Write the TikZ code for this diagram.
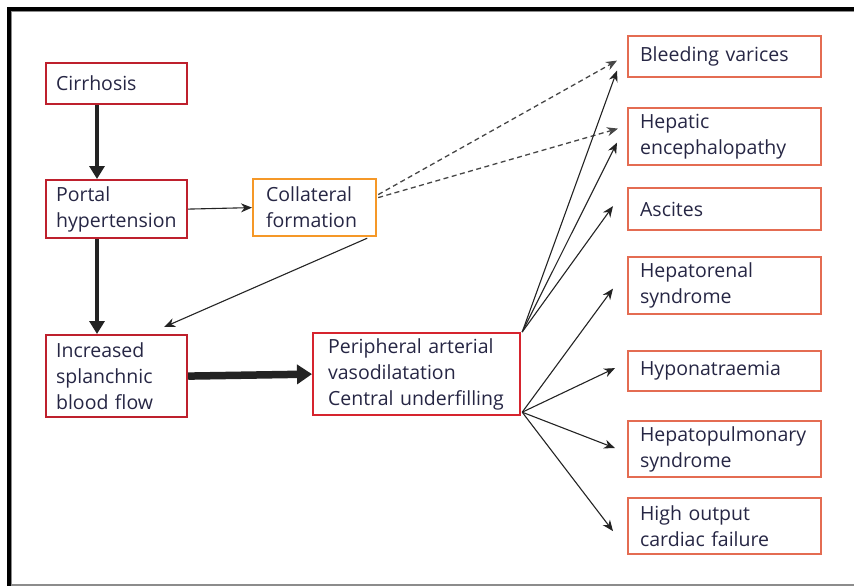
\documentclass[tikz,border=0pt]{standalone}
\usepackage{fontspec}
\setmainfont{Open Sans}
\usetikzlibrary{arrows.meta,calc}
\definecolor{txt}{RGB}{38,38,68}
\definecolor{darkred}{RGB}{190,32,45}
\definecolor{brightred}{RGB}{214,36,46}
\definecolor{orangeb}{RGB}{245,152,40}
\definecolor{salmon}{RGB}{228,108,82}
\definecolor{arr}{RGB}{35,35,35}
\definecolor{dash}{RGB}{70,70,70}
\definecolor{framegray}{RGB}{140,140,140}
\begin{document}
\begin{tikzpicture}[x=1pt,y=-1pt,
  box/.style={draw, line width=2.2pt, anchor=north west, align=left, inner ysep=0pt,
    font=\fontsize{19.5}{26}\selectfont, text=txt},
  leftbox/.style={box, draw=darkred, inner xsep=10pt, text width=121pt},
  rightbox/.style={box, draw=salmon, inner xsep=12pt, text width=169pt},
  thin/.style={draw=arr, line width=1.1pt, -{Stealth[length=11pt,width=9pt]}},
  dashedarrow/.style={draw=dash, line width=1.3pt, dash pattern=on 5pt off 3.5pt, -{Stealth[length=11pt,width=9pt]}},
  thickarrow/.style={draw=arr, line width=4.5pt, -{Triangle[length=13pt,width=15pt]}},
  hugearrow/.style={draw=arr, line width=7.5pt, -{Triangle[length=15pt,width=19pt]}}
]
\useasboundingbox (0,0) rectangle (854,586);
% frame
\draw[black, line width=4pt] (9,586) -- (9,9) -- (854,9);
\draw[framegray, line width=0.8pt] (11.8,586) -- (11.8,11.8) -- (854,11.8);
\draw[framegray, line width=1.5pt] (11,585) -- (854,585);

% left column
\node[leftbox, minimum height=41pt] (cir) at (45,62) {Cirrhosis};
\node[leftbox, minimum height=58pt] (por) at (45,179) {Portal\\hypertension};
\node[leftbox, minimum height=82pt] (inc) at (45,334) {Increased\\splanchnic\\blood~flow};
\node[box, draw=orangeb, inner xsep=13pt, text width=97pt, minimum height=57pt] (col) at (252,178) {Collateral\\formation};
\node[box, draw=brightred, inner xsep=15pt, text width=177pt, minimum height=82pt] (per) at (312,332) {Peripheral~arterial\\vasodilatation\\Central~underfilling};

% right column
\node[rightbox, minimum height=41pt] (bv) at (627,35) {Bleeding~varices};
\node[rightbox, minimum height=57pt] (he) at (627,107) {Hepatic\\encephalopathy};
\node[rightbox, minimum height=42pt] (as) at (627,187) {Ascites};
\node[rightbox, minimum height=57pt] (hr) at (627,256) {Hepatorenal\\syndrome};
\node[rightbox, minimum height=40pt] (hn) at (627,350) {Hyponatraemia};
\node[rightbox, minimum height=56pt] (hp) at (627,420) {Hepatopulmonary\\syndrome};
\node[rightbox, minimum height=56pt] (ho) at (627,497) {High~output\\cardiac~failure};

% main arrows
\draw[thickarrow] (cir.south -| 97,0) -- (por.north -| 97,0);
\draw[thickarrow] (por.south -| 97,0) -- (inc.north -| 97,0);
\draw[thin] (por.east) -- (col.west);
\draw[thin] ($(col.south east)+(-10,1)$) -- ($(inc.north east)+(-24,-7)$);
\draw[hugearrow] (inc.east) -- (per.west);

% dashed from collateral
\draw[dashedarrow] ($(col.east)+(1,-13)$) -- ($(bv.west)+(-10,4)$);
\draw[dashedarrow] ($(col.east)+(1,-10)$) -- ($(he.west)+(-9,-8)$);

% from peripheral
\coordinate (pt) at ($(per.north east)+(1,0)$);
\coordinate (pb) at ($(per.south east)+(1,-4)$);
\draw[thin] (pt) -- ($(bv.west)+(-10,14)$);
\draw[thin] (pt) -- ($(he.west)+(-10,6)$);
\draw[thin] (pt) -- ($(as.west)+(-14,-3)$);
\draw[thin] (pb) -- ($(hr.west)+(-14,3)$);
\draw[thin] (pb) -- ($(hn.west)+(-12,-3)$);
\draw[thin] (pb) -- ($(hp.west)+(-12,-1)$);
\draw[thin] (pb) -- ($(ho.west)+(-14,5)$);
\end{tikzpicture}
\end{document}
